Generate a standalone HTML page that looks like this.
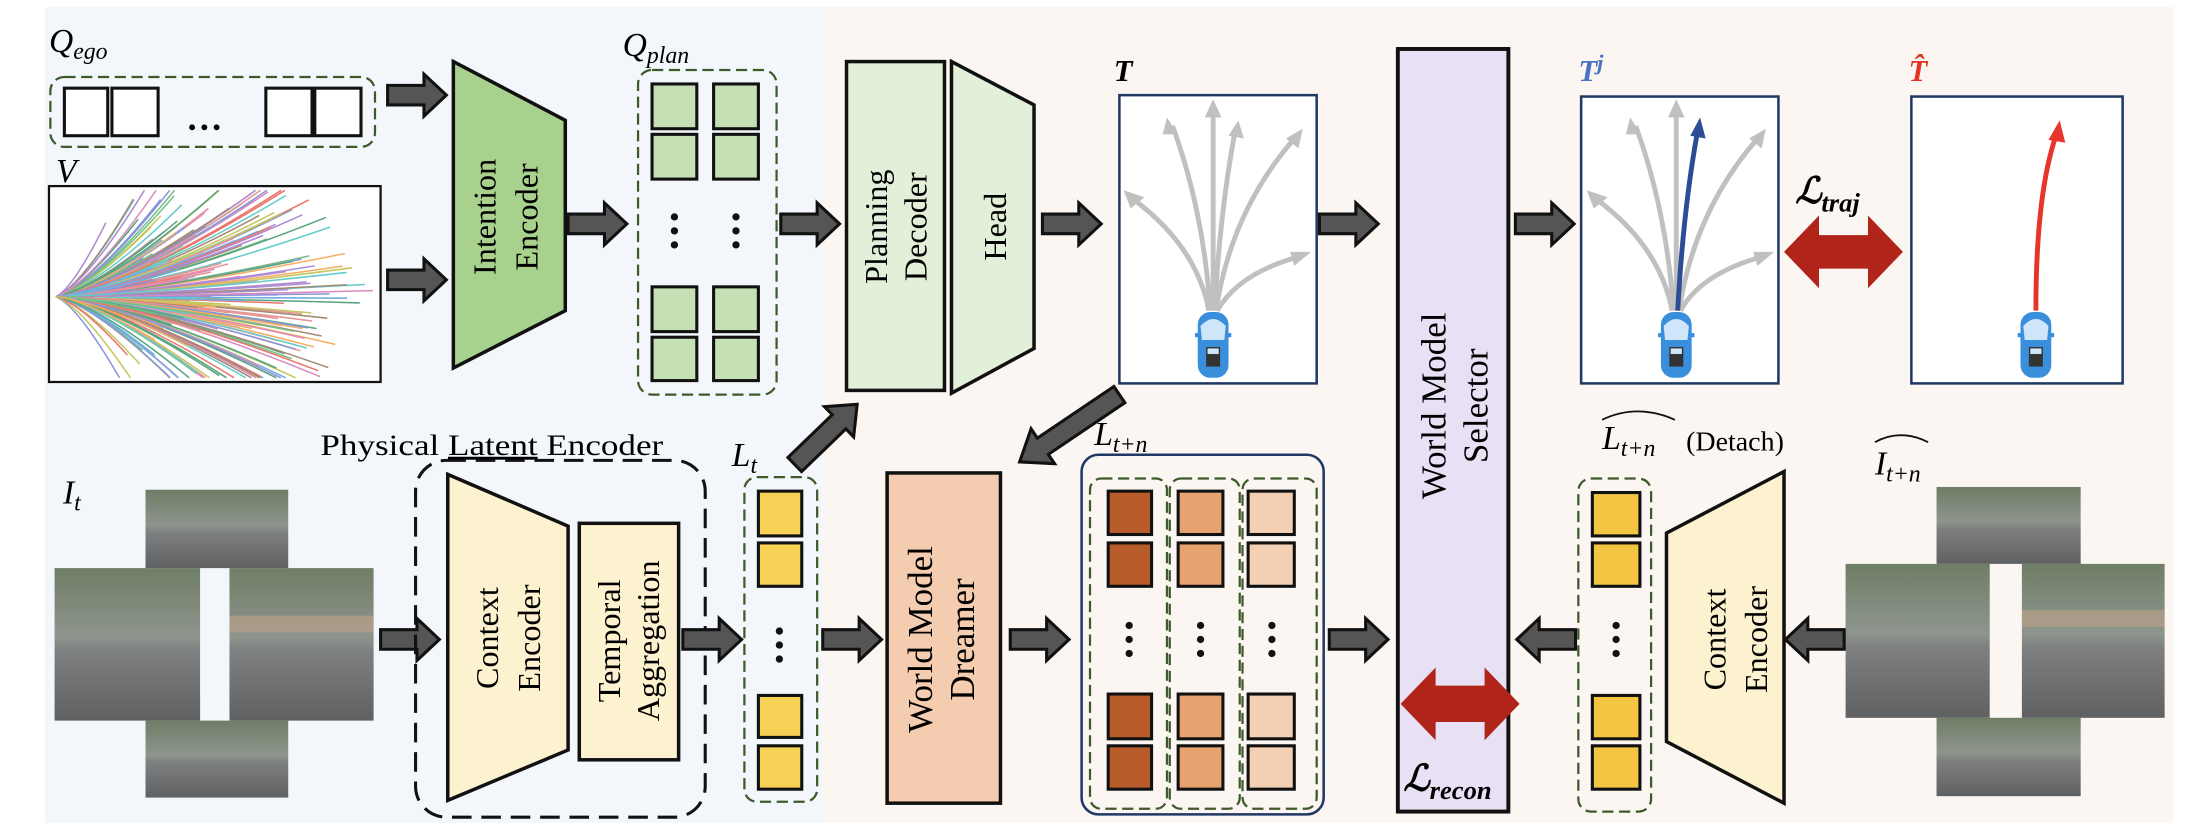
<!DOCTYPE html>
<html><head><meta charset="utf-8"><style>
html,body{margin:0;padding:0;background:#fff;}
svg{display:block;}
text{font-family:"Liberation Serif",serif;}
</style></head><body>
<svg width="2194" height="832" viewBox="0 0 1568 594.6" preserveAspectRatio="none" xmlns="http://www.w3.org/2000/svg">
<defs>
<g id="ra"><path d="M0 -7 L26 -7 L26 -15 L42 0 L26 15 L26 7 L0 7 Z" fill="#555" stroke="#111" stroke-width="2.2"/></g>
<g id="car">
<rect x="-11" y="-24" width="22" height="47" rx="9" fill="#3a8fdc"/>
<path d="M-9 -14 Q0 -24 9 -14 L8 -4 L-8 -4 Z" fill="#cfe6fa"/>
<rect x="-5" y="1" width="10" height="14" fill="#333"/>
<rect x="-4" y="2" width="8" height="4" fill="#cfe6fa"/>
<rect x="-13" y="-9" width="3" height="3" fill="#3a8fdc"/><rect x="10" y="-9" width="3" height="3" fill="#3a8fdc"/>
</g>
<linearGradient id="ph" x1="0" y1="0" x2="0" y2="1"><stop offset="0" stop-color="#6f7d66"/><stop offset="0.45" stop-color="#8e958d"/><stop offset="0.55" stop-color="#7d7f80"/><stop offset="1" stop-color="#5f6062"/></linearGradient>
</defs>
<rect x="0" y="0" width="1568" height="595" fill="#fff"/>
<rect x="32" y="5" width="556" height="583" fill="#f3f7fb"/>
<rect x="588" y="5" width="965" height="583" fill="#fbf6f2"/>

<!-- Q_ego -->
<text x="35" y="37" font-size="24" font-style="italic">Q<tspan font-size="17" dy="5">ego</tspan></text>
<rect x="36" y="55" width="232" height="50" rx="10" fill="none" stroke="#3d5a2a" stroke-width="1.6" stroke-dasharray="8,4"/>
<g fill="#fff" stroke="#111" stroke-width="2.2">
<rect x="46" y="63" width="31" height="34"/><rect x="80" y="63" width="33" height="34"/>
<rect x="190" y="63" width="33" height="34"/><rect x="225" y="63" width="33" height="34"/>
</g>
<text x="133" y="93" font-size="26" font-weight="bold">…</text>
<!-- V -->
<text x="40" y="130" font-size="24" font-style="italic">V</text>
<rect x="35" y="133" width="237" height="140" fill="#fff" stroke="#111" stroke-width="1.6"/>
<g id="spag" fill="none" stroke-width="1.1" opacity="0.8"></g>

<use href="#ra" x="277" y="68"/>
<use href="#ra" x="277" y="200"/>
<!-- Intention encoder -->
<path d="M324 44 L404 86 L404 222 L324 263 Z" fill="#a9d18e" stroke="#111" stroke-width="2.5"/>
<text transform="translate(354,155) rotate(-90)" font-size="23" text-anchor="middle">Intention</text>
<text transform="translate(384,155) rotate(-90)" font-size="23" text-anchor="middle">Encoder</text>
<use href="#ra" x="406" y="160"/>

<!-- Q_plan -->
<text x="445" y="40" font-size="24" font-style="italic">Q<tspan font-size="17" dy="5">plan</tspan></text>
<rect x="456" y="50" width="99" height="232" rx="10" fill="none" stroke="#3d5a2a" stroke-width="1.6" stroke-dasharray="8,4"/>
<g fill="#c5e0b4" stroke="#111" stroke-width="2.2">
<rect x="466" y="60" width="32" height="32"/><rect x="510" y="60" width="32" height="32"/>
<rect x="466" y="96" width="32" height="32"/><rect x="510" y="96" width="32" height="32"/>
<rect x="466" y="205" width="32" height="32"/><rect x="510" y="205" width="32" height="32"/>
<rect x="466" y="241" width="32" height="31"/><rect x="510" y="241" width="32" height="31"/>
</g>
<g fill="#111"><circle cx="482" cy="155" r="2.6"/><circle cx="482" cy="165" r="2.6"/><circle cx="482" cy="175" r="2.6"/>
<circle cx="526" cy="155" r="2.6"/><circle cx="526" cy="165" r="2.6"/><circle cx="526" cy="175" r="2.6"/></g>
<use href="#ra" x="558" y="160"/>

<!-- Planning decoder + head -->
<rect x="605" y="44" width="70" height="235" fill="#e2f0d9" stroke="#111" stroke-width="2.5"/>
<text transform="translate(634,162) rotate(-90)" font-size="23" text-anchor="middle">Planning</text>
<text transform="translate(662,162) rotate(-90)" font-size="23" text-anchor="middle">Decoder</text>
<path d="M680 44 L739 75 L739 249 L680 281 Z" fill="#e2f0d9" stroke="#111" stroke-width="2.5"/>
<text transform="translate(719,162) rotate(-90)" font-size="23" text-anchor="middle">Head</text>
<use href="#ra" x="745" y="160"/>

<!-- T box -->
<text x="796" y="58" font-size="22" font-style="italic" font-weight="bold">T</text>
<rect x="800" y="68" width="141" height="206" fill="#fff" stroke="#1f3864" stroke-width="1.8"/>
<g fill="none" stroke="#c0c0c0" stroke-width="3.5">
<path d="M864 222 Q855 175 808 141"/><path d="M865 222 Q860 150 838 90"/><path d="M867 222 L867 78"/>
<path d="M868 222 Q872 150 883 92"/><path d="M869 222 Q880 150 926 98"/><path d="M870 222 Q885 195 930 183"/>
</g>
<g fill="#c0c0c0">
<polygon points="803,136 818,141 808,149"/><polygon points="834,84 842,96 831,96"/><polygon points="867,71 873,84 861,84"/>
<polygon points="885,86 889,99 878,97"/><polygon points="931,92 928,106 919,99"/><polygon points="937,180 925,190 922,180"/>
</g>
<use href="#car" x="867" y="247"/>
<use href="#ra" x="943" y="160"/>

<!-- Selector -->
<rect x="999" y="35" width="79" height="545" fill="#e8e0f4" stroke="#111" stroke-width="2.8"/>
<text transform="translate(1033,290) rotate(-90)" font-size="25" text-anchor="middle">World Model</text>
<text transform="translate(1063,290) rotate(-90)" font-size="25" text-anchor="middle">Selector</text>
<use href="#ra" x="1083" y="160"/>

<!-- Tj box -->
<text x="1128" y="58" font-size="22" font-style="italic" font-weight="bold" fill="#4a72c4">T<tspan font-size="16" dy="-8">j</tspan></text>
<rect x="1130" y="69" width="141" height="205" fill="#fff" stroke="#1f3864" stroke-width="1.8"/>
<g fill="none" stroke="#c0c0c0" stroke-width="3.5">
<path d="M1195 222 Q1186 175 1139 141"/><path d="M1196 222 Q1191 150 1169 90"/><path d="M1198 222 L1198 78"/>
<path d="M1200 222 Q1211 150 1257 98"/><path d="M1201 222 Q1216 195 1261 183"/>
</g>
<g fill="#c0c0c0">
<polygon points="1134,136 1149,141 1139,149"/><polygon points="1165,84 1173,96 1162,96"/><polygon points="1198,71 1204,84 1192,84"/>
<polygon points="1262,92 1259,106 1250,99"/><polygon points="1268,180 1256,190 1253,180"/>
</g>
<path d="M1199 222 Q1203 150 1213 95" fill="none" stroke="#2b4d94" stroke-width="3.5"/>
<polygon points="1215,84 1219,99 1208,97" fill="#2b4d94"/>
<use href="#car" x="1198" y="247"/>

<!-- L_traj -->
<text x="1283" y="145" font-size="26" font-style="italic" font-weight="bold">ℒ<tspan font-size="19" dy="6">traj</tspan></text>
<path d="M1275 180 L1300 154 L1300 168 L1335 168 L1335 154 L1360 180 L1335 206 L1335 192 L1300 192 L1300 206 Z" fill="#b0241a"/>

<!-- T hat -->
<text x="1364" y="58" font-size="22" font-weight="bold" font-style="italic" fill="#e53322">T̂</text>
<rect x="1366" y="69" width="151" height="205" fill="#fff" stroke="#1f3864" stroke-width="1.8"/>
<path d="M1455 222 Q1455 140 1469 98" fill="none" stroke="#e8342a" stroke-width="3.5"/>
<polygon points="1472,86 1476,102 1464,100" fill="#e8342a"/>
<use href="#car" x="1455" y="247"/>

<!-- images -->
<text x="45" y="360" font-size="24" font-style="italic">I<tspan font-size="17" dy="5">t</tspan></text>
<g fill="url(#ph)">
<rect x="104" y="350" width="102" height="56"/>
<rect x="39" y="406" width="104" height="109"/>
<rect x="164" y="406" width="103" height="109"/>
<rect x="104" y="515" width="102" height="55"/>
<rect x="1384" y="348" width="103" height="55"/>
<rect x="1319" y="403" width="103" height="110"/>
<rect x="1445" y="403" width="102" height="110"/>
<rect x="1384" y="513" width="103" height="56"/>
</g>
<g fill="#c9a88a" opacity="0.5"><rect x="164" y="440" width="103" height="12"/><rect x="1445" y="436" width="102" height="12"/></g>
<use href="#ra" x="272" y="457"/>

<!-- physical latent encoder -->
<text x="229" y="325" font-size="21" textLength="245" lengthAdjust="spacingAndGlyphs">Physical <tspan text-decoration="underline">Latent</tspan> Encoder</text>
<rect x="297" y="329" width="207" height="255" rx="22" fill="none" stroke="#111" stroke-width="2.2" stroke-dasharray="14,7"/>
<path d="M320 339 L406 376 L406 536 L320 572 Z" fill="#fdf2cf" stroke="#111" stroke-width="2.5"/>
<text transform="translate(356,456) rotate(-90)" font-size="23" text-anchor="middle">Context</text>
<text transform="translate(386,456) rotate(-90)" font-size="23" text-anchor="middle">Encoder</text>
<rect x="414" y="374" width="71" height="169" fill="#fdf2cf" stroke="#111" stroke-width="2.5"/>
<text transform="translate(443,458) rotate(-90)" font-size="23" text-anchor="middle">Temporal</text>
<text transform="translate(471,458) rotate(-90)" font-size="23" text-anchor="middle">Aggregation</text>
<use href="#ra" x="488" y="457"/>

<!-- L_t -->
<text x="523" y="333" font-size="24" font-style="italic">L<tspan font-size="17" dy="5">t</tspan></text>
<rect x="532" y="341" width="52" height="232" rx="9" fill="none" stroke="#3d5a2a" stroke-width="1.6" stroke-dasharray="8,4"/>
<g fill="#f6d155" stroke="#111" stroke-width="2.2">
<rect x="542" y="351" width="31" height="32"/><rect x="542" y="388" width="31" height="31"/>
<rect x="542" y="497" width="31" height="30"/><rect x="542" y="533" width="31" height="31"/>
</g>
<g fill="#111"><circle cx="557" cy="451" r="2.6"/><circle cx="557" cy="461" r="2.6"/><circle cx="557" cy="471" r="2.6"/></g>
<path transform="translate(568,332) rotate(-44)" d="M0 -7 L44 -7 L44 -15 L62 0 L44 15 L44 7 L0 7 Z" fill="#555" stroke="#111" stroke-width="2.2"/>
<path transform="translate(800,282) rotate(146)" d="M0 -7 L66 -7 L66 -15 L86 0 L66 15 L66 7 L0 7 Z" fill="#555" stroke="#111" stroke-width="2.2"/>
<use href="#ra" x="588" y="457"/>

<!-- dreamer -->
<rect x="634" y="338" width="81" height="236" fill="#f4cdb0" stroke="#111" stroke-width="2.5"/>
<text transform="translate(666,457) rotate(-90)" font-size="25" text-anchor="middle">World Model</text>
<text transform="translate(696,457) rotate(-90)" font-size="25" text-anchor="middle">Dreamer</text>
<use href="#ra" x="722" y="457"/>

<!-- L_t+n -->
<text x="782" y="318" font-size="24" font-style="italic">L<tspan font-size="17" dy="5">t+n</tspan></text>
<rect x="773" y="325" width="173" height="257" rx="12" fill="none" stroke="#1f3864" stroke-width="1.8"/>
<g fill="none" stroke="#3d5a2a" stroke-width="1.6" stroke-dasharray="8,4">
<rect x="779" y="342" width="55" height="236" rx="8"/><rect x="836" y="342" width="50" height="236" rx="8"/><rect x="888" y="342" width="53" height="236" rx="8"/>
</g>
<g stroke="#111" stroke-width="2.2">
<g fill="#b85c2c"><rect x="792" y="351" width="31" height="31"/><rect x="792" y="388" width="31" height="31"/><rect x="792" y="496" width="31" height="32"/><rect x="792" y="533" width="31" height="31"/></g>
<g fill="#e8a26f"><rect x="842" y="351" width="32" height="31"/><rect x="842" y="388" width="32" height="31"/><rect x="842" y="496" width="32" height="32"/><rect x="842" y="533" width="32" height="31"/></g>
<g fill="#f3cfb3"><rect x="892" y="351" width="33" height="31"/><rect x="892" y="388" width="33" height="31"/><rect x="892" y="496" width="33" height="32"/><rect x="892" y="533" width="33" height="31"/></g>
</g>
<g fill="#111"><circle cx="807" cy="447" r="2.6"/><circle cx="807" cy="457" r="2.6"/><circle cx="807" cy="467" r="2.6"/>
<circle cx="858" cy="447" r="2.6"/><circle cx="858" cy="457" r="2.6"/><circle cx="858" cy="467" r="2.6"/>
<circle cx="909" cy="447" r="2.6"/><circle cx="909" cy="457" r="2.6"/><circle cx="909" cy="467" r="2.6"/></g>
<use href="#ra" x="950" y="457"/>

<!-- recon arrow -->
<path d="M1001 503 L1026 477 L1026 490 L1061 490 L1061 477 L1086 503 L1061 529 L1061 516 L1026 516 L1026 529 Z" fill="#b0241a"/>
<text x="1003" y="565" font-size="26" font-style="italic" font-weight="bold">ℒ<tspan font-size="19" dy="6">recon</tspan></text>

<use href="#ra" transform="translate(1126,457) rotate(180)"/>

<!-- L_t+n hat -->
<text x="1145" y="321" font-size="24" font-style="italic">L<tspan font-size="17" dy="5">t+n</tspan></text>
<path d="M1145 300 Q1170 288 1197 300" fill="none" stroke="#111" stroke-width="1.3"/>
<text x="1205" y="322" font-size="20">(Detach)</text>
<rect x="1128" y="342" width="52" height="238" rx="9" fill="none" stroke="#3d5a2a" stroke-width="1.6" stroke-dasharray="8,4"/>
<g fill="#f4c542" stroke="#111" stroke-width="2.2">
<rect x="1138" y="352" width="34" height="31"/><rect x="1138" y="388" width="34" height="31"/>
<rect x="1138" y="497" width="34" height="31"/><rect x="1138" y="533" width="34" height="31"/>
</g>
<g fill="#111"><circle cx="1155" cy="447" r="2.6"/><circle cx="1155" cy="457" r="2.6"/><circle cx="1155" cy="467" r="2.6"/></g>

<path d="M1275 337 L1191 381 L1191 530 L1275 574 Z" fill="#fdf2cf" stroke="#111" stroke-width="2.5"/>
<text transform="translate(1233,457) rotate(-90)" font-size="23" text-anchor="middle">Context</text>
<text transform="translate(1263,457) rotate(-90)" font-size="23" text-anchor="middle">Encoder</text>
<use href="#ra" transform="translate(1318,457) rotate(180)"/>

<text x="1340" y="339" font-size="24" font-style="italic">I<tspan font-size="17" dy="5">t+n</tspan></text>
<path d="M1340 316 Q1358 306 1378 316" fill="none" stroke="#111" stroke-width="1.3"/>
</svg>
<script>
(function(){
var g=document.getElementById('spag');
var cols=['#e6554a','#4f9bd9','#55b06a','#f29a3c','#9b6fc7','#3fbfbf','#d46fb0','#b8b83a','#8c6d4f','#6c7ad1','#e07b7b','#2f8f5f'];
var s=7,h='';
function r(){s=(s*9301+49297)%233280;return s/233280;}
for(var i=0;i<220;i++){
 var a=(r()+r()+r())/1.5-1;
 var ang=a*1.3;
 var L=70+r()*160*(1-Math.abs(a)*0.6);
 var ex=40+Math.cos(ang)*L, ey=212+Math.sin(ang)*L*0.85;
 if(ex>268)ex=268; if(ey<136)ey=136; if(ey>270)ey=270;
 var cx=40+(ex-40)*0.35, cy=212+(ey-212)*0.12;
 h+='<path d="M40 212 Q'+cx.toFixed(1)+' '+cy.toFixed(1)+' '+ex.toFixed(1)+' '+ey.toFixed(1)+'" stroke="'+cols[i%cols.length]+'"/>';
}
g.innerHTML=h;
})();
</script>
</body></html>
